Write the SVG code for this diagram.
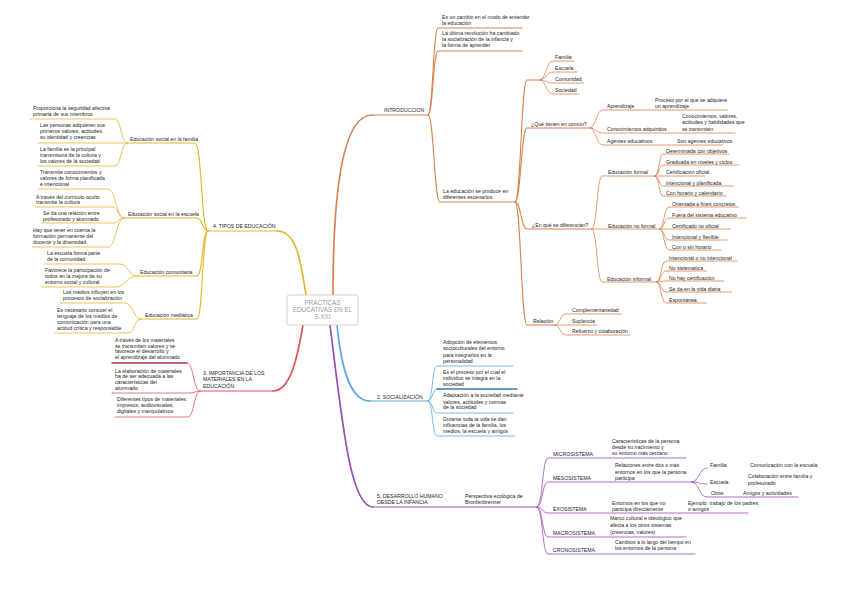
<svg xmlns="http://www.w3.org/2000/svg" width="848" height="599" viewBox="0 0 848 599">
<style>
text{font-family:"Liberation Sans",Arial,sans-serif;font-size:5.2px;fill:#1e1e1e}
.c{font-size:6.3px;fill:#9a9a9a;text-anchor:middle}
path{fill:none;stroke-linecap:round}
.o{stroke:#d9824f}.y{stroke:#e3b52d}.r{stroke:#e05563}.b{stroke:#5aa9e1}.p{stroke:#9b4db8}
.w1{stroke-width:1.7}.w2{stroke-width:1.1}.w3{stroke-width:0.8}
</style>
<rect width="848" height="599" fill="#fff"/>
<g id="connectors">
<!-- orange -->
<path class="o w1" d="M333,295 C333,180 345,115 372,115"/>
<path class="o w2" d="M372,115 H428"/>
<path class="o w2" d="M428,115 C433,115 433,28 438,28 H522"/>
<path class="o w2" d="M428,115 C433,115 433,51 438,51 H522"/>
<path class="o w2" d="M428,115 C434,115 434,202 440,202 H515"/>
<path class="o w2" d="M515,202 C521,202 521,80 527,80 H540"/>
<path class="o w3" d="M540,80 C546,80 546,61 553,61 H574"/>
<path class="o w3" d="M540,80 C546,80 546,72 553,72 H577"/>
<path class="o w3" d="M540,80 C546,80 546,83 553,83 H584"/>
<path class="o w3" d="M540,80 C546,80 546,94 553,94 H579"/>
<path class="o w2" d="M515,202 C521,202 521,128 527,128 H590"/>
<path class="o w3" d="M590,128 C596,128 596,110 603,110 H728"/>
<path class="o w3" d="M590,128 C596,128 596,133 603,133 H735"/>
<path class="o w3" d="M590,128 C596,128 596,145 603,145 H723"/>
<path class="o w2" d="M515,202 C521,202 521,229 527,229 H592"/>
<path class="o w3" d="M592,229 C597,229 597,176 602,176 H655"/>
<path class="o w3" d="M655,176 C659,176 659,154 663,154 H729"/>
<path class="o w3" d="M655,176 C659,176 659,165 663,165 H739"/>
<path class="o w3" d="M655,176 H705"/>
<path class="o w3" d="M655,176 C659,176 659,186 663,186 H733"/>
<path class="o w3" d="M655,176 C659,176 659,196 663,196 H726"/>
<path class="o w3" d="M592,229 H660"/>
<path class="o w3" d="M660,229 C664,229 664,207 669,207 H738"/>
<path class="o w3" d="M660,229 C664,229 664,218 669,218 H746"/>
<path class="o w3" d="M660,229 H730"/>
<path class="o w3" d="M660,229 C664,229 664,240 669,240 H727"/>
<path class="o w3" d="M660,229 C664,229 664,250 669,250 H721"/>
<path class="o w3" d="M592,229 C597,229 597,282 602,282 H657"/>
<path class="o w3" d="M657,282 C661,282 661,261 666,261 H737"/>
<path class="o w3" d="M657,282 C661,282 661,271 666,271 H706"/>
<path class="o w3" d="M657,282 C661,282 661,281 666,281 H724"/>
<path class="o w3" d="M657,282 C661,282 661,292 666,292 H732"/>
<path class="o w3" d="M657,282 C661,282 661,303 666,303 H706"/>
<path class="o w2" d="M515,202 C521,202 521,325 527,325 H555"/>
<path class="o w3" d="M555,325 C560,325 560,314 566,314 H621"/>
<path class="o w3" d="M555,325 H597"/>
<path class="o w3" d="M555,325 C560,325 560,335 566,335 H630"/>
<!-- yellow -->
<path class="y w1" d="M306,295 C300,255 295,231 277,231"/>
<path class="y w2" d="M277,231 H208"/>
<path class="y w2" d="M208,231 C201,231 202,143 195,143 H127"/>
<path class="y w3" d="M127,143 C121,143 121,119 115,119 H30"/>
<path class="y w3" d="M127,143 H38"/>
<path class="y w3" d="M127,143 C121,143 121,166 115,166 H38"/>
<path class="y w2" d="M208,231 C202,231 203,218 197,218 H124"/>
<path class="y w3" d="M124,218 C116,218 116,189 108,189 H38"/>
<path class="y w3" d="M124,218 C118,218 118,207 113,207 H35"/>
<path class="y w3" d="M124,218 C118,218 118,223 113,223 H42"/>
<path class="y w3" d="M124,218 C116,218 116,247 108,247 H32"/>
<path class="y w2" d="M208,231 C202,231 203,276 197,276 H137"/>
<path class="y w3" d="M137,276 C128,276 129,264 120,264 H45"/>
<path class="y w3" d="M137,276 C126,276 126,287 115,287 H42"/>
<path class="y w2" d="M208,231 C202,231 203,319 197,319 H141"/>
<path class="y w3" d="M141,319 C133,319 133,303 125,303 H60"/>
<path class="y w3" d="M141,319 C134,319 135,333 128,333 H55"/>
<!-- red -->
<path class="r w1" d="M303,325 C297,360 290,391 273,391"/>
<path class="r w2" d="M273,391 H200"/>
<path class="r w3" d="M200,391 C193,391 194,363 187,363"/>
<path stroke="#b03845" stroke-width="1.3" d="M187,363 H112"/>
<path class="r w3" d="M200,391 C195,391 195,393 190,393 H112"/>
<path class="r w3" d="M200,391 C194,391 194,417 188,417 H115"/>
<!-- blue -->
<path class="b w1" d="M337,325 C342,375 352,401 370,401"/>
<path class="b w2" d="M370,401 H428"/>
<path class="b w3" d="M428,401 C433,401 432,366 437,366 H513"/>
<path class="b w3" d="M428,401 C433,401 432,389 437,389"/>
<path stroke="#3a78ad" stroke-width="1.3" d="M437,389 H517"/>
<path class="b w3" d="M428,401 C433,401 432,413 437,413 H513"/>
<path class="b w3" d="M428,401 C433,401 432,436 437,436 H515"/>
<!-- purple -->
<path class="p w1" d="M330,325 C342,420 350,507 373,507"/>
<path class="p w2" d="M373,507 H537"/>
<path class="p w3" d="M537,507 C543,507 542,458 548,458 H686"/>
<path class="p w3" d="M537,507 C543,507 542,482 548,482 H692"/>
<path class="p w3" d="M537,507 C543,507 542,513 548,513 H748"/>
<path class="p w3" d="M537,507 C543,507 542,537 548,537 H686"/>
<path class="p w3" d="M537,507 C543,507 542,554 548,554 H695"/>
<path class="p w3" d="M692,482 C699,482 699,468 707,468"/>
<path class="p w3" d="M692,482 C699,482 699,484 707,484"/>
<path class="p w3" d="M692,482 C699,482 699,497 707,497 H798"/>
</g>
<g id="center">
<rect x="287" y="295" width="71" height="30" rx="2" fill="#fff" stroke="#c4c4c4" stroke-width="0.8"/>
<text class="c" x="322.5" y="304.5">PRACTICAS</text>
<text class="c" x="322.5" y="311.5">EDUCATIVAS EN EL</text>
<text class="c" x="322.5" y="318.5">S.XXI</text>
</g>
<g id="intro"><text x="384" y="112">INTRODUCCION</text></g>
<g id="intro-a"><text x="442" y="19">Es un cambio en el modo de entender</text><text x="442" y="25">la educación</text></g>
<g id="intro-b"><text x="442" y="35">La última revolución ha cambiado</text><text x="442" y="41">la socialización de la infancia y</text><text x="442" y="47">la forma de aprender</text></g>
<g id="intro-c"><text x="443" y="193">La educación se produce en</text><text x="443" y="199">diferentes escenarios.</text></g>
<g id="familia"><text x="555" y="59">Familia</text></g>
<g id="escuela"><text x="555" y="70">Escuela</text></g>
<g id="comunidad"><text x="555" y="81">Comunidad</text></g>
<g id="sociedad"><text x="555" y="92">Sociedad</text></g>
<g id="comun"><text x="531" y="126">¿Qué tienen en común?</text></g>
<g id="aprendizaje"><text x="607" y="108">Aprendizaje</text><text x="655" y="102">Proceso por el que se adquiere</text><text x="655" y="108">un aprendizaje</text></g>
<g id="conocimientos"><text x="607" y="131">Conocimientos adquiridos</text><text x="682" y="118">Conocimientos, valores,</text><text x="682" y="124">actitudes y habilidades que</text><text x="682" y="131">se transmiten</text></g>
<g id="agentes"><text x="607" y="143">Agentes educativos</text><text x="677" y="143">Son agentes educativos</text></g>
<g id="diferencian"><text x="532" y="227">¿En qué se diferencian?</text></g>
<g id="formal"><text x="608" y="174">Educación formal</text>
<text x="666" y="153">Determinada con objetivos</text><text x="666" y="164">Graduada en niveles y ciclos</text><text x="666" y="174">Certificación oficial</text><text x="666" y="185">Intencional y planificada</text><text x="666" y="195">Con horario y calendario</text></g>
<g id="noformal"><text x="608" y="228">Educación no formal</text>
<text x="672" y="206">Orientada a fines concretos</text><text x="672" y="217">Fuera del sistema educativo</text><text x="672" y="228">Certificado no oficial</text><text x="672" y="239">Intencional y flexible</text><text x="672" y="249">Con o sin horario</text></g>
<g id="informal"><text x="607" y="281">Educación informal</text>
<text x="669" y="260">Intencional o no intencional</text><text x="669" y="270">No sistemática</text><text x="669" y="280">No hay certificación</text><text x="669" y="291">Se da en la vida diaria</text><text x="669" y="302">Espontánea</text></g>
<g id="relacion"><text x="533" y="323">Relación</text><text x="572" y="312">Complementariedad</text><text x="572" y="323">Suplencia</text><text x="572" y="333">Refuerzo y colaboración</text></g>
<g id="tipos"><text x="213" y="228">4. TIPOS DE EDUCACIÓN</text></g>
<g id="social-familia"><text x="130" y="141">Educación social en la familia</text>
<text x="33" y="110">Proporciona la seguridad afectiva</text><text x="33" y="116">primaria de sus miembros</text>
<text x="40" y="127">Las personas adquieren sus</text><text x="40" y="133">primeros valores, actitudes,</text><text x="40" y="139">su identidad y creencias</text>
<text x="40" y="151">La familia es la principal</text><text x="40" y="157">transmisora de la cultura y</text><text x="40" y="163">los valores de la sociedad</text></g>
<g id="social-escuela"><text x="128" y="216">Educación social en la escuela</text>
<text x="40" y="174">Transmite conocimientos y</text><text x="40" y="180">valores de forma planificada</text><text x="40" y="186">e intencional</text>
<text x="36" y="199">A través del currículo oculto</text><text x="36" y="204">transmite la cultura</text>
<text x="43" y="215">Se da una relación entre</text><text x="43" y="221">profesorado y alumnado</text>
<text x="33" y="232">Hay que tener en cuenta la</text><text x="33" y="238">formación permanente del</text><text x="33" y="244">docente y la diversidad</text></g>
<g id="comunitaria"><text x="140" y="274">Educación comunitaria</text>
<text x="47" y="255">La escuela forma parte</text><text x="47" y="261">de la comunidad</text>
<text x="45" y="272">Favorece la participación de</text><text x="45" y="278">todos en la mejora de su</text><text x="45" y="284">entorno social y cultural</text></g>
<g id="mediatica"><text x="145" y="317">Educación mediática</text>
<text x="63" y="294">Los medios influyen en los</text><text x="63" y="300">procesos de socialización</text>
<text x="57" y="312">Es necesario conocer el</text><text x="57" y="318">lenguaje de los medios de</text><text x="57" y="324">comunicación para una</text><text x="57" y="330">actitud crítica y responsable</text></g>
<g id="materiales"><text x="203" y="375">3. IMPORTANCIA DE LOS</text><text x="203" y="381">MATERIALES EN LA</text><text x="203" y="388">EDUCACIÓN</text>
<text x="115" y="342">A través de los materiales</text><text x="115" y="348">se transmiten valores y se</text><text x="115" y="353">favorece el desarrollo y</text><text x="115" y="359">el aprendizaje del alumnado</text>
<text x="115" y="373">La elaboración de materiales</text><text x="115" y="378">ha de ser adecuada a las</text><text x="115" y="384">características del</text><text x="115" y="390">alumnado</text>
<text x="117" y="401">Diferentes tipos de materiales:</text><text x="117" y="407">impresos, audiovisuales,</text><text x="117" y="413">digitales y manipulativos</text></g>
<g id="socializacion"><text x="377" y="399">2. SOCIALIZACIÓN</text>
<text x="443" y="344">Adopción de elementos</text><text x="443" y="350">socioculturales del entorno</text><text x="443" y="357">para integrarlos en la</text><text x="443" y="363">personalidad</text>
<text x="443" y="374">Es el proceso por el cual el</text><text x="443" y="380">individuo se integra en la</text><text x="443" y="386">sociedad</text>
<text x="443" y="397">Adaptación a la sociedad mediante</text><text x="443" y="404">valores, actitudes y normas</text><text x="443" y="409">de la sociedad</text>
<text x="443" y="421">Durante toda la vida se dan</text><text x="443" y="427">influencias de la familia, los</text><text x="443" y="433">medios, la escuela y amigos</text></g>
<g id="desarrollo"><text x="377" y="498">5. DESARROLLO HUMANO</text><text x="377" y="504">DESDE LA INFANCIA</text></g>
<g id="perspectiva"><text x="465" y="498">Perspectiva ecológica de</text><text x="465" y="504">Bronfenbrenner</text></g>
<g id="micro"><text x="553" y="456">MICROSISTEMA</text><text x="612" y="443">Características de la persona</text><text x="612" y="449">desde su nacimiento y</text><text x="612" y="455">su entorno más cercano</text></g>
<g id="meso"><text x="553" y="480">MESOSISTEMA</text><text x="615" y="467">Relaciones entre dos o más</text><text x="615" y="474">entornos en los que la persona</text><text x="615" y="480">participa</text>
<text x="710" y="467">Familia</text><text x="750" y="467">Comunicación con la escuela</text>
<text x="710" y="484">Escuela</text><text x="748" y="478">Colaboración entre familia y</text><text x="748" y="485">profesorado</text>
<text x="711" y="495">Otros</text><text x="743" y="495">Amigos y actividades</text></g>
<g id="exo"><text x="553" y="511">EXOSISTEMA</text><text x="612" y="505">Entornos en los que no</text><text x="612" y="511">participa directamente</text><text x="688" y="505">Ejemplo: trabajo de los padres</text><text x="688" y="511">o amigos</text></g>
<g id="macro"><text x="553" y="535">MACROSISTEMA</text><text x="610" y="520">Marco cultural e ideológico que</text><text x="610" y="527">afecta a los otros sistemas</text><text x="610" y="534">(creencias, valores)</text></g>
<g id="crono"><text x="553" y="552">CRONOSISTEMA</text><text x="615" y="544">Cambios a lo largo del tiempo en</text><text x="615" y="550">los entornos de la persona</text></g>
</svg>
